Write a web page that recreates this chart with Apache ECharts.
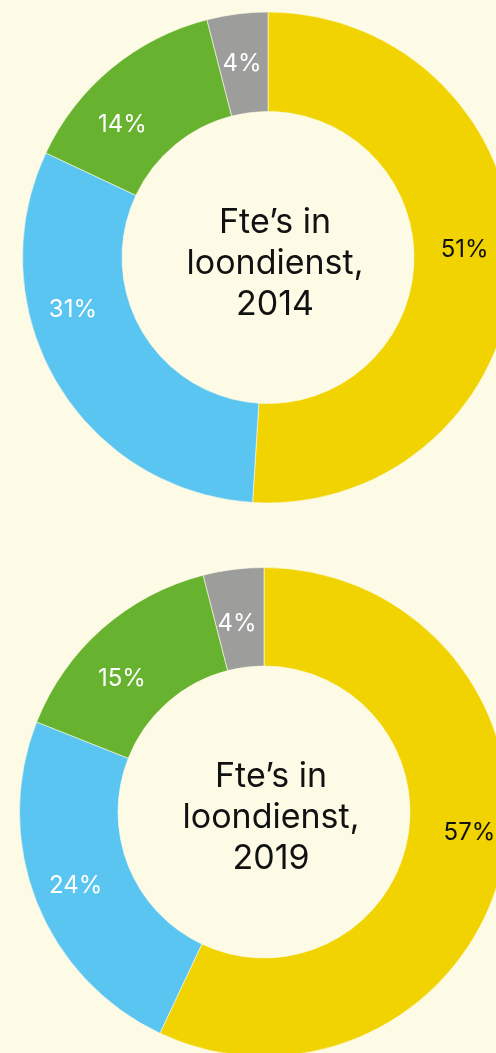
<!DOCTYPE html>
<html><head><meta charset="utf-8">
<script src="https://cdn.jsdelivr.net/npm/echarts@6/dist/echarts.min.js"></script>
<style>html,body{margin:0;padding:0;background:#fdfbe6}#c{width:496px;height:1053px}</style>
</head><body><div id="c"></div>
<script>
const categories = ['Categorie 1', 'Categorie 2', 'Categorie 3', 'Categorie 4'];
const values2014 = [51, 31, 14, 4];
const values2019 = [57, 24, 15, 4];
const titles = ['Fte’s in\nloondienst,\n2014', 'Fte’s in\nloondienst,\n2019'];

const colors = ['#f0d300', '#5bc5f2', '#67b22f', '#9d9d9c'];
const labelColors = ['#111', '#fff', '#fff', '#fff'];
const offsets2014 = [[-2, -14], [-24, -49], [-19, 20], [-1, 3]];
const offsets2019 = [[12, -22], [-4, 1], [-11, 15], [-2, 8]];
const font = 'Inter, "Noto Sans", sans-serif';

function buildData(vals, offs) {
  return vals.map((v, i) => ({
    name: categories[i], value: v,
    itemStyle: { color: colors[i] },
    label: { color: labelColors[i], offset: offs[i] }
  }));
}
function pie(vals, offs, center, radius) {
  return {
    type: 'pie', center: center, radius: radius, startAngle: 90, clockwise: true,
    silent: true, animation: false,
    itemStyle: { borderColor: '#fdfbe6', borderWidth: 0.6 },
    label: { show: true, position: 'inside', formatter: '{c}%', fontFamily: font, fontSize: 24, fontWeight: 400 },
    labelLine: { show: false },
    data: buildData(vals, offs)
  };
}
const chart = echarts.init(document.getElementById('c'), null, { renderer: 'canvas' });
chart.setOption({
  backgroundColor: '#fdfbe6',
  title: [
    { text: titles[0], left: 270, top: 259, textAlign: 'center', textVerticalAlign: 'middle',
      textStyle: { fontFamily: font, fontSize: 34, fontWeight: 400, color: '#111', lineHeight: 41 } },
    { text: titles[1], left: 266, top: 813, textAlign: 'center', textVerticalAlign: 'middle',
      textStyle: { fontFamily: font, fontSize: 34, fontWeight: 400, color: '#111', lineHeight: 41 } }
  ],
  series: [
    pie(values2014, offsets2014, [268, 257.5], [146, 245.5]),
    pie(values2019, offsets2019, [264, 812], [146, 244.5])
  ]
});
</script></body></html>
